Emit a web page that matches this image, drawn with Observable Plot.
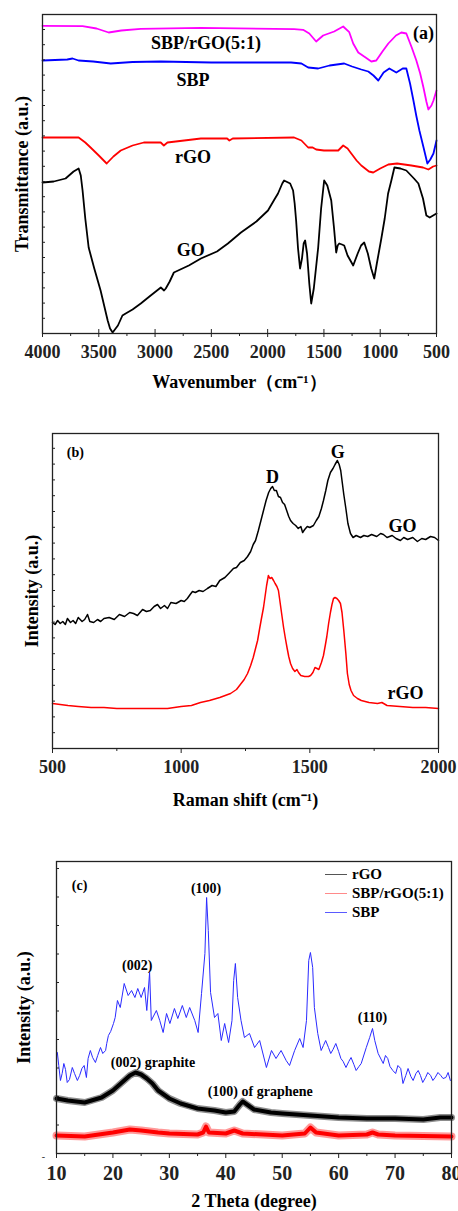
<!DOCTYPE html>
<html><head><meta charset="utf-8">
<script src="https://cdn.jsdelivr.net/npm/d3@7"></script>
<script src="https://cdn.jsdelivr.net/npm/@observablehq/plot@0.6"></script>
<style>
body{margin:0;background:#fff;}
#wrap{position:relative;width:458px;height:1211px;overflow:hidden;background:#fff;}
.legend{position:absolute;left:325px;top:865px;font:bold 15px "Liberation Serif","Times New Roman",serif;color:#000;line-height:19px;}
.legend div{display:flex;align-items:center;white-space:nowrap;}
.legend span.sw{display:inline-block;width:22px;height:0;margin-right:5px;}
</style></head><body><div id="wrap"></div>
<script>
// ---------- Panel (a) FTIR: [wavenumber, transmittance (a.u.)] ----------
const ftirSBPrGO = [[4000,307.7],[3644,307.3],[3520,305],[3412,301],[3300,303],[3127,304.7],[2593,305.7],[1765,304.3],[1685,303.7],[1630,300],[1569,292],[1507,298],[1409,302],[1329,307],[1275,301.3],[1240,290],[1195,281],[1130,276],[1079,272],[1035,273],[980,282],[928,290],[860,298],[812,301],[768,300],[720,286],[679,273],[645,260],[616,246],[590,232],[572,224],[545,228],[527,233],[500,243]];
const ftirSBP = [[4000,273],[3780,274],[3733,275],[3680,273],[3550,272],[3394,270],[3200,271.5],[2949,272],[2500,271],[1792,271],[1700,270],[1640,266],[1551,265],[1450,268],[1320,270],[1250,267],[1168,264],[1106,262],[1060,258],[1017,253],[970,261],[919,265],[857,261],[800,265],[768,265],[735,250],[705,233],[680,218],[652,203],[615,186],[581,170],[555,174],[527,180],[500,193]];
const ftirRGO = [[4000,196],[3679,196],[3620,191],[3573,186],[3500,178],[3430,170],[3370,177],[3305,183],[3200,188],[3100,191],[2950,191],[2922,188],[2890,191],[2593,195],[2360,195],[2340,193],[2310,195],[1765,196],[1700,193],[1640,186],[1600,186],[1569,184],[1500,183],[1420,183],[1373,183],[1329,188],[1290,185],[1257,180],[1210,173],[1168,168],[1100,162],[1062,161],[1000,165],[928,169],[850,170],[723,168],[620,166],[572,164],[530,167],[500,168]];
const ftirGO = [[4000,151],[3900,152],[3795,155],[3724,162],[3679,165],[3660,158],[3644,143],[3620,115],[3590,86],[3540,65],[3484,43],[3421,13],[3400,5],[3377,1],[3330,8],[3290,18],[3261,20],[3200,24],[3127,30],[3050,37],[2949,46],[2920,43],[2905,45],[2870,52],[2833,61],[2700,68],[2593,75],[2450,82],[2353,90],[2300,95],[2237,101],[2100,112],[1997,123],[1940,134],[1908,140],[1870,150],[1854,153],[1800,150],[1774,143],[1760,130],[1747,113],[1730,85],[1712,65],[1695,75],[1680,90],[1667,93],[1650,80],[1630,50],[1613,30],[1590,45],[1570,66],[1551,86],[1525,125],[1498,153],[1470,148],[1435,133],[1410,105],[1391,81],[1378,88],[1364,90],[1340,89],[1320,88],[1290,78],[1240,68],[1200,80],[1170,88],[1142,91],[1110,80],[1080,65],[1053,55],[1030,70],[990,95],[960,115],[930,140],[901,153],[874,166],[820,165],[768,163],[700,155],[661,150],[620,135],[590,118],[560,116],[530,118],[500,120]];
const ftirMajorTicks = [4000,3500,3000,2500,2000,1500,1000,500];
const ftirMinorTicks = [3750,3250,2750,2250,1750,1250,750];
const ftirLabels = [
  {text:"SBP/rGO(5:1)", x:2548, y:290},
  {text:"SBP", x:2664, y:253},
  {text:"rGO", x:2664, y:176},
  {text:"GO", x:2682, y:83},
  {text:"(a)", x:616, y:300}
];

// ---------- Panel (b) Raman: [shift, intensity (a.u.)] ----------
const ramanGO = [[500,126],[510,124],[520,128],[530,125],[540,127],[550,124],[558,130],[570,126],[580,128],[590,125],[600,131],[615,127],[625,129],[636,134],[645,127],[660,126],[675,129],[687,127],[700,130],[720,131],[740,129],[760,134],[780,132],[800,136],[815,135],[830,133],[850,139],[865,137],[880,138],[895,142],[908,144],[920,140],[935,143],[947,140],[960,146],[980,145],[1000,148],[1012,147],[1024,150],[1035,154],[1044,157],[1055,156],[1070,158],[1085,157],[1102,160],[1120,163],[1135,162],[1150,168],[1170,171],[1185,175],[1203,180],[1215,181],[1230,186],[1245,188],[1258,192],[1270,197],[1280,204],[1289,208],[1300,218],[1310,228],[1320,238],[1330,248],[1340,256],[1348,260],[1355,262],[1362,258],[1370,258],[1378,252],[1386,251],[1394,246],[1402,244],[1410,238],[1418,232],[1425,228],[1435,225],[1445,223],[1455,220],[1465,222],[1472,216],[1480,219],[1490,222],[1500,221],[1514,223],[1525,228],[1535,232],[1545,240],[1553,248],[1562,258],[1570,268],[1580,276],[1590,280],[1598,284],[1607,288],[1614,284],[1620,278],[1626,266],[1632,254],[1640,240],[1648,225],[1658,215],[1668,211],[1680,213],[1697,211],[1710,213],[1725,212],[1740,214],[1760,212],[1775,215],[1786,214],[1800,211],[1820,213],[1835,210],[1852,208],[1865,211],[1880,209],[1900,211],[1918,207],[1935,210],[1950,209],[1969,212],[1985,211],[2000,208]];
const ramanRGO = [[500,45],[530,44],[560,43],[600,42],[650,41],[700,41],[750,40],[815,40],[870,40],[947,40],[1000,42],[1040,43],[1075,46],[1110,48],[1150,51],[1192,55],[1215,59],[1230,64],[1245,69],[1258,75],[1270,83],[1280,91],[1290,101],[1297,108],[1305,120],[1312,130],[1320,141],[1326,152],[1332,163],[1339,173],[1345,170],[1352,171],[1359,168],[1365,165],[1372,162],[1378,158],[1385,145],[1392,132],[1398,121],[1405,110],[1412,100],[1418,92],[1425,85],[1433,80],[1442,77],[1450,79],[1456,76],[1465,73],[1480,72],[1495,72],[1503,73],[1512,76],[1520,81],[1528,80],[1535,79],[1545,86],[1553,93],[1560,103],[1566,112],[1573,125],[1580,136],[1586,144],[1592,150],[1598,151],[1605,150],[1612,148],[1619,145],[1625,136],[1632,118],[1640,95],[1646,75],[1653,64],[1660,58],[1670,53],[1685,50],[1700,48],[1730,46],[1763,45],[1780,46],[1800,43],[1850,42],[1900,41],[1950,41],[2000,40]];
const ramanMajorTicks = [500,1000,1500,2000];
const ramanMinorTicks = [750,1250,1750];
const ramanLabels = [
  {text:"D", x:1355, y:271, size:18},
  {text:"G", x:1608, y:296, size:18},
  {text:"GO", x:1860, y:222, size:18},
  {text:"rGO", x:1872, y:55, size:18},
  {text:"(b)", x:589, y:296, size:14}
];

// ---------- Panel (c) XRD: [2 theta, intensity (a.u.)] ----------
const xrdSBP = [[10.15,101],[10.4,88],[10.7,73],[11.0,80],[11.3,90],[11.6,84],[11.9,71],[12.3,74],[12.8,86],[13.2,80],[13.7,73],[14.1,78],[14.5,85],[14.9,88],[15.3,76],[15.6,95],[16.0,103],[16.4,96],[16.9,91],[17.3,98],[17.8,106],[18.2,100],[18.7,103],[18.9,110],[19.2,118],[19.6,122],[20.1,130],[20.4,136],[20.8,153],[21.3,146],[22.0,170],[22.7,158],[23.3,163],[23.9,156],[24.4,165],[25.0,156],[25.6,166],[26.0,143],[26.5,181],[26.8,133],[27.7,143],[28.3,133],[28.9,121],[29.5,140],[30.1,130],[30.9,145],[31.5,135],[32.3,148],[33.0,136],[33.6,146],[34.5,133],[35.1,121],[35.7,160],[36.3,200],[36.6,256],[36.9,223],[37.3,161],[38.0,136],[38.6,140],[39.2,113],[39.8,130],[40.5,111],[41.1,133],[41.4,173],[41.7,190],[42.1,156],[42.7,133],[43.3,116],[44.2,120],[45.1,106],[46.0,113],[47.2,86],[48.1,103],[48.9,95],[49.8,103],[50.7,93],[51.3,88],[52.2,103],[53.1,115],[53.7,106],[54.3,133],[54.7,193],[55.0,201],[55.4,186],[55.7,146],[56.3,120],[56.9,103],[57.3,108],[57.7,113],[58.2,106],[58.6,100],[59.0,104],[59.5,110],[60.0,102],[60.4,95],[60.8,92],[61.3,86],[61.8,92],[62.2,96],[62.7,89],[63.1,83],[63.6,87],[64.0,90],[64.9,106],[65.5,116],[66.0,125],[66.4,113],[67.0,100],[67.9,90],[68.3,98],[68.7,95],[69.1,87],[69.6,83],[70.1,80],[70.5,88],[71.0,85],[71.4,70],[71.9,78],[72.3,85],[72.8,77],[73.2,73],[73.7,80],[74.1,83],[74.5,78],[74.9,71],[75.4,76],[75.8,81],[76.3,78],[76.7,73],[77.1,76],[77.6,81],[78.1,78],[78.5,75],[79.0,76],[79.4,81],[79.8,73]];
const xrdRGO = [[10,55],[12,53],[15,51],[18,56],[20,63],[22,73],[23,78],[24,81],[25,79],[26,75],[27,70],[28,63],[30,55],[32,50],[35,45],[38,43],[40,41],[41.5,42],[42.5,49],[43,52],[44,48],[45,44],[48,41],[50,40],[55,38],[60,36],[65,35],[70,35],[75,34],[78,36],[80,36]];
const xrdComposite = [[10,18],[15,17],[20,21],[23,24],[25,23],[28,21],[30,20],[35,19],[36,21],[36.5,27],[37,21],[40,20],[41.5,23],[43,20],[50,18],[54,20],[55,26],[56,21],[60,18],[65,19],[66,21],[67,19],[70,18],[80,17]];
const xrdMajorTicks = [10,20,30,40,50,60,70,80];
const xrdMinorTicks = [15,25,35,45,55,65,75];
const xrdLabels = [
  {text:"(c)", x:14.1, y:268},
  {text:"(100)", x:36.5, y:265},
  {text:"(002)", x:24.3, y:188},
  {text:"(110)", x:66.0, y:136},
  {text:"(002) graphite", x:27.1, y:91},
  {text:"(100) of graphene", x:46.1, y:62}
];
const legendNames = ["rGO","SBP/rGO(5:1)","SBP"];
const legendColors = ["#555","#ff8a8a","#5a5aff"];

// ---------- drawing ----------
const SERIF = '"Liberation Serif","Times New Roman",Times,serif';
const AX = "#222";
const wrap = document.getElementById("wrap");
const style = {fontFamily: SERIF, fontWeight: "bold", fontSize: "18px", color: AX, background: "transparent", overflow: "visible"};
function place(svg, top){ svg.style.position="absolute"; svg.style.left="0px"; svg.style.top=top+"px"; wrap.appendChild(svg); }
const fx = d => d[0], fy = d => d[1];
const txt = (s, o) => Plot.text([s], {text: d => d, textAnchor: "middle", lineAnchor: "middle", ...o});

// Panel (a)
{
  const W=458,H=395,mt=14,ml=42,mr=22,mb=62, fw=W-ml-mr, fh=H-mt-mb;
  const svg = Plot.plot({
    width:W,height:H,marginTop:mt,marginLeft:ml,marginRight:mr,marginBottom:mb,
    x:{domain:[4000,500],axis:null,label:null}, y:{domain:[0,319],axis:null,label:null},
    style,
    marks:[
      Plot.line(ftirGO,{x:fx,y:fy,stroke:"#000",strokeWidth:1.8}),
      Plot.line(ftirRGO,{x:fx,y:fy,stroke:"#ff0000",strokeWidth:1.8}),
      Plot.line(ftirSBP,{x:fx,y:fy,stroke:"#0000ff",strokeWidth:1.8}),
      Plot.line(ftirSBPrGO,{x:fx,y:fy,stroke:"#ff00ff",strokeWidth:1.8}),
      Plot.frame({stroke:AX,strokeWidth:1.3}),
      Plot.axisX(ftirMajorTicks,{tickSize:4,tickPadding:8,fontSize:18,label:null,tickFormat:d=>String(d),stroke:AX}),
      Plot.tickX(ftirMajorTicks,{x:d=>d,insetTop:fh-4,stroke:AX}),
      Plot.axisX(ftirMinorTicks,{tickSize:3,tickFormat:()=>"",label:null,stroke:AX}),
      Plot.tickY(d3.range(0,319,15.2),{y:d=>d,insetRight:fw-3,stroke:AX}),
      Plot.text(ftirLabels,{x:"x",y:"y",text:"text",fontSize:18,fill:"#000"}),
      txt("Wavenumber（cm⁻¹）",{frameAnchor:"bottom",dy:49,fontSize:18,fill:"#000"}),
      txt("Transmittance (a.u.)",{frameAnchor:"left",dx:-20,rotate:-90,fontSize:18,fill:"#000"})
    ]
  });
  place(svg,0);
}

// Panel (b)
{
  const W=458,H=420,mt=38,ml=52,mr=20,mb=67, fw=W-ml-mr, fh=H-mt-mb;
  const svg = Plot.plot({
    width:W,height:H,marginTop:mt,marginLeft:ml,marginRight:mr,marginBottom:mb,
    x:{domain:[500,2000],axis:null,label:null}, y:{domain:[0,315],axis:null,label:null},
    style,
    marks:[
      Plot.line(ramanGO,{x:fx,y:fy,stroke:"#000",strokeWidth:1.5}),
      Plot.line(ramanRGO,{x:fx,y:fy,stroke:"#ff0000",strokeWidth:1.5}),
      Plot.frame({stroke:AX,strokeWidth:1.3}),
      Plot.axisX(ramanMajorTicks,{tickSize:5,tickPadding:7,fontSize:18,label:null,tickFormat:d=>String(d),stroke:AX}),
      Plot.axisX(ramanMinorTicks,{tickSize:3,tickFormat:()=>"",label:null,stroke:AX}),
      Plot.tickY(d3.range(0,315,15.8),{y:d=>d,insetRight:fw-3,stroke:AX}),
      Plot.text(ramanLabels,{x:"x",y:"y",text:"text",fontSize:d=>d.size,fill:"#000"}),
      txt("Raman shift (cm⁻¹)",{frameAnchor:"bottom",dy:52,fontSize:18,fill:"#000"}),
      txt("Intensity (a.u.)",{frameAnchor:"left",dx:-20.5,rotate:-90,fontSize:18,fill:"#000"})
    ]
  });
  place(svg,395);
}

// Panel (c)
{
  const W=458,H=396,mt=46,ml=56,mr=7,mb=58, fw=W-ml-mr, fh=H-mt-mb;
  const svg = Plot.plot({
    width:W,height:H,marginTop:mt,marginLeft:ml,marginRight:mr,marginBottom:mb,
    x:{domain:[10,80],axis:null,label:null}, y:{domain:[0,292],axis:null,label:null},
    style,
    marks:[
      Plot.line(xrdComposite,{x:fx,y:fy,stroke:"#ff0000",strokeWidth:8,strokeOpacity:0.4}),
      Plot.line(xrdComposite,{x:fx,y:fy,stroke:"#ff0000",strokeWidth:4}),
      Plot.line(xrdRGO,{x:fx,y:fy,stroke:"#000",strokeWidth:7,strokeOpacity:0.45}),
      Plot.line(xrdRGO,{x:fx,y:fy,stroke:"#000",strokeWidth:4}),
      Plot.line(xrdSBP,{x:fx,y:fy,stroke:"#2a2aff",strokeWidth:1}),
      Plot.frame({stroke:AX,strokeWidth:1.3}),
      Plot.axisX(xrdMajorTicks,{tickSize:5,tickPadding:7,fontSize:20,label:null,tickFormat:d=>String(d),stroke:AX}),
      Plot.axisX(xrdMinorTicks,{tickSize:3,tickFormat:()=>"",label:null,stroke:AX}),
      Plot.tickY(d3.range(0,292,28.5),{y:d=>d,insetRight:fw-3,stroke:AX}),
      Plot.text(xrdLabels,{x:"x",y:"y",text:"text",fontSize:14,fill:"#000"}),
      txt("-",{frameAnchor:"bottom-left",dx:-13,dy:3,fontSize:10,fill:"#444"}),
      txt("2 Theta (degree)",{frameAnchor:"bottom",dy:48,fontSize:18,fill:"#000"}),
      txt("Intensity (a.u.)",{frameAnchor:"left",dx:-32,rotate:-90,fontSize:18,fill:"#000"})
    ]
  });
  place(svg,815);
}

// Legend for panel (c)
{
  const lg = document.createElement("div");
  lg.className = "legend";
  legendNames.forEach((n,i)=>{
    const row = document.createElement("div");
    const sw = document.createElement("span");
    sw.className="sw"; sw.style.borderTop = "1.3px solid " + legendColors[i];
    const t = document.createElement("span"); t.textContent = n;
    row.appendChild(sw); row.appendChild(t); lg.appendChild(row);
  });
  wrap.appendChild(lg);
}
</script></body></html>
